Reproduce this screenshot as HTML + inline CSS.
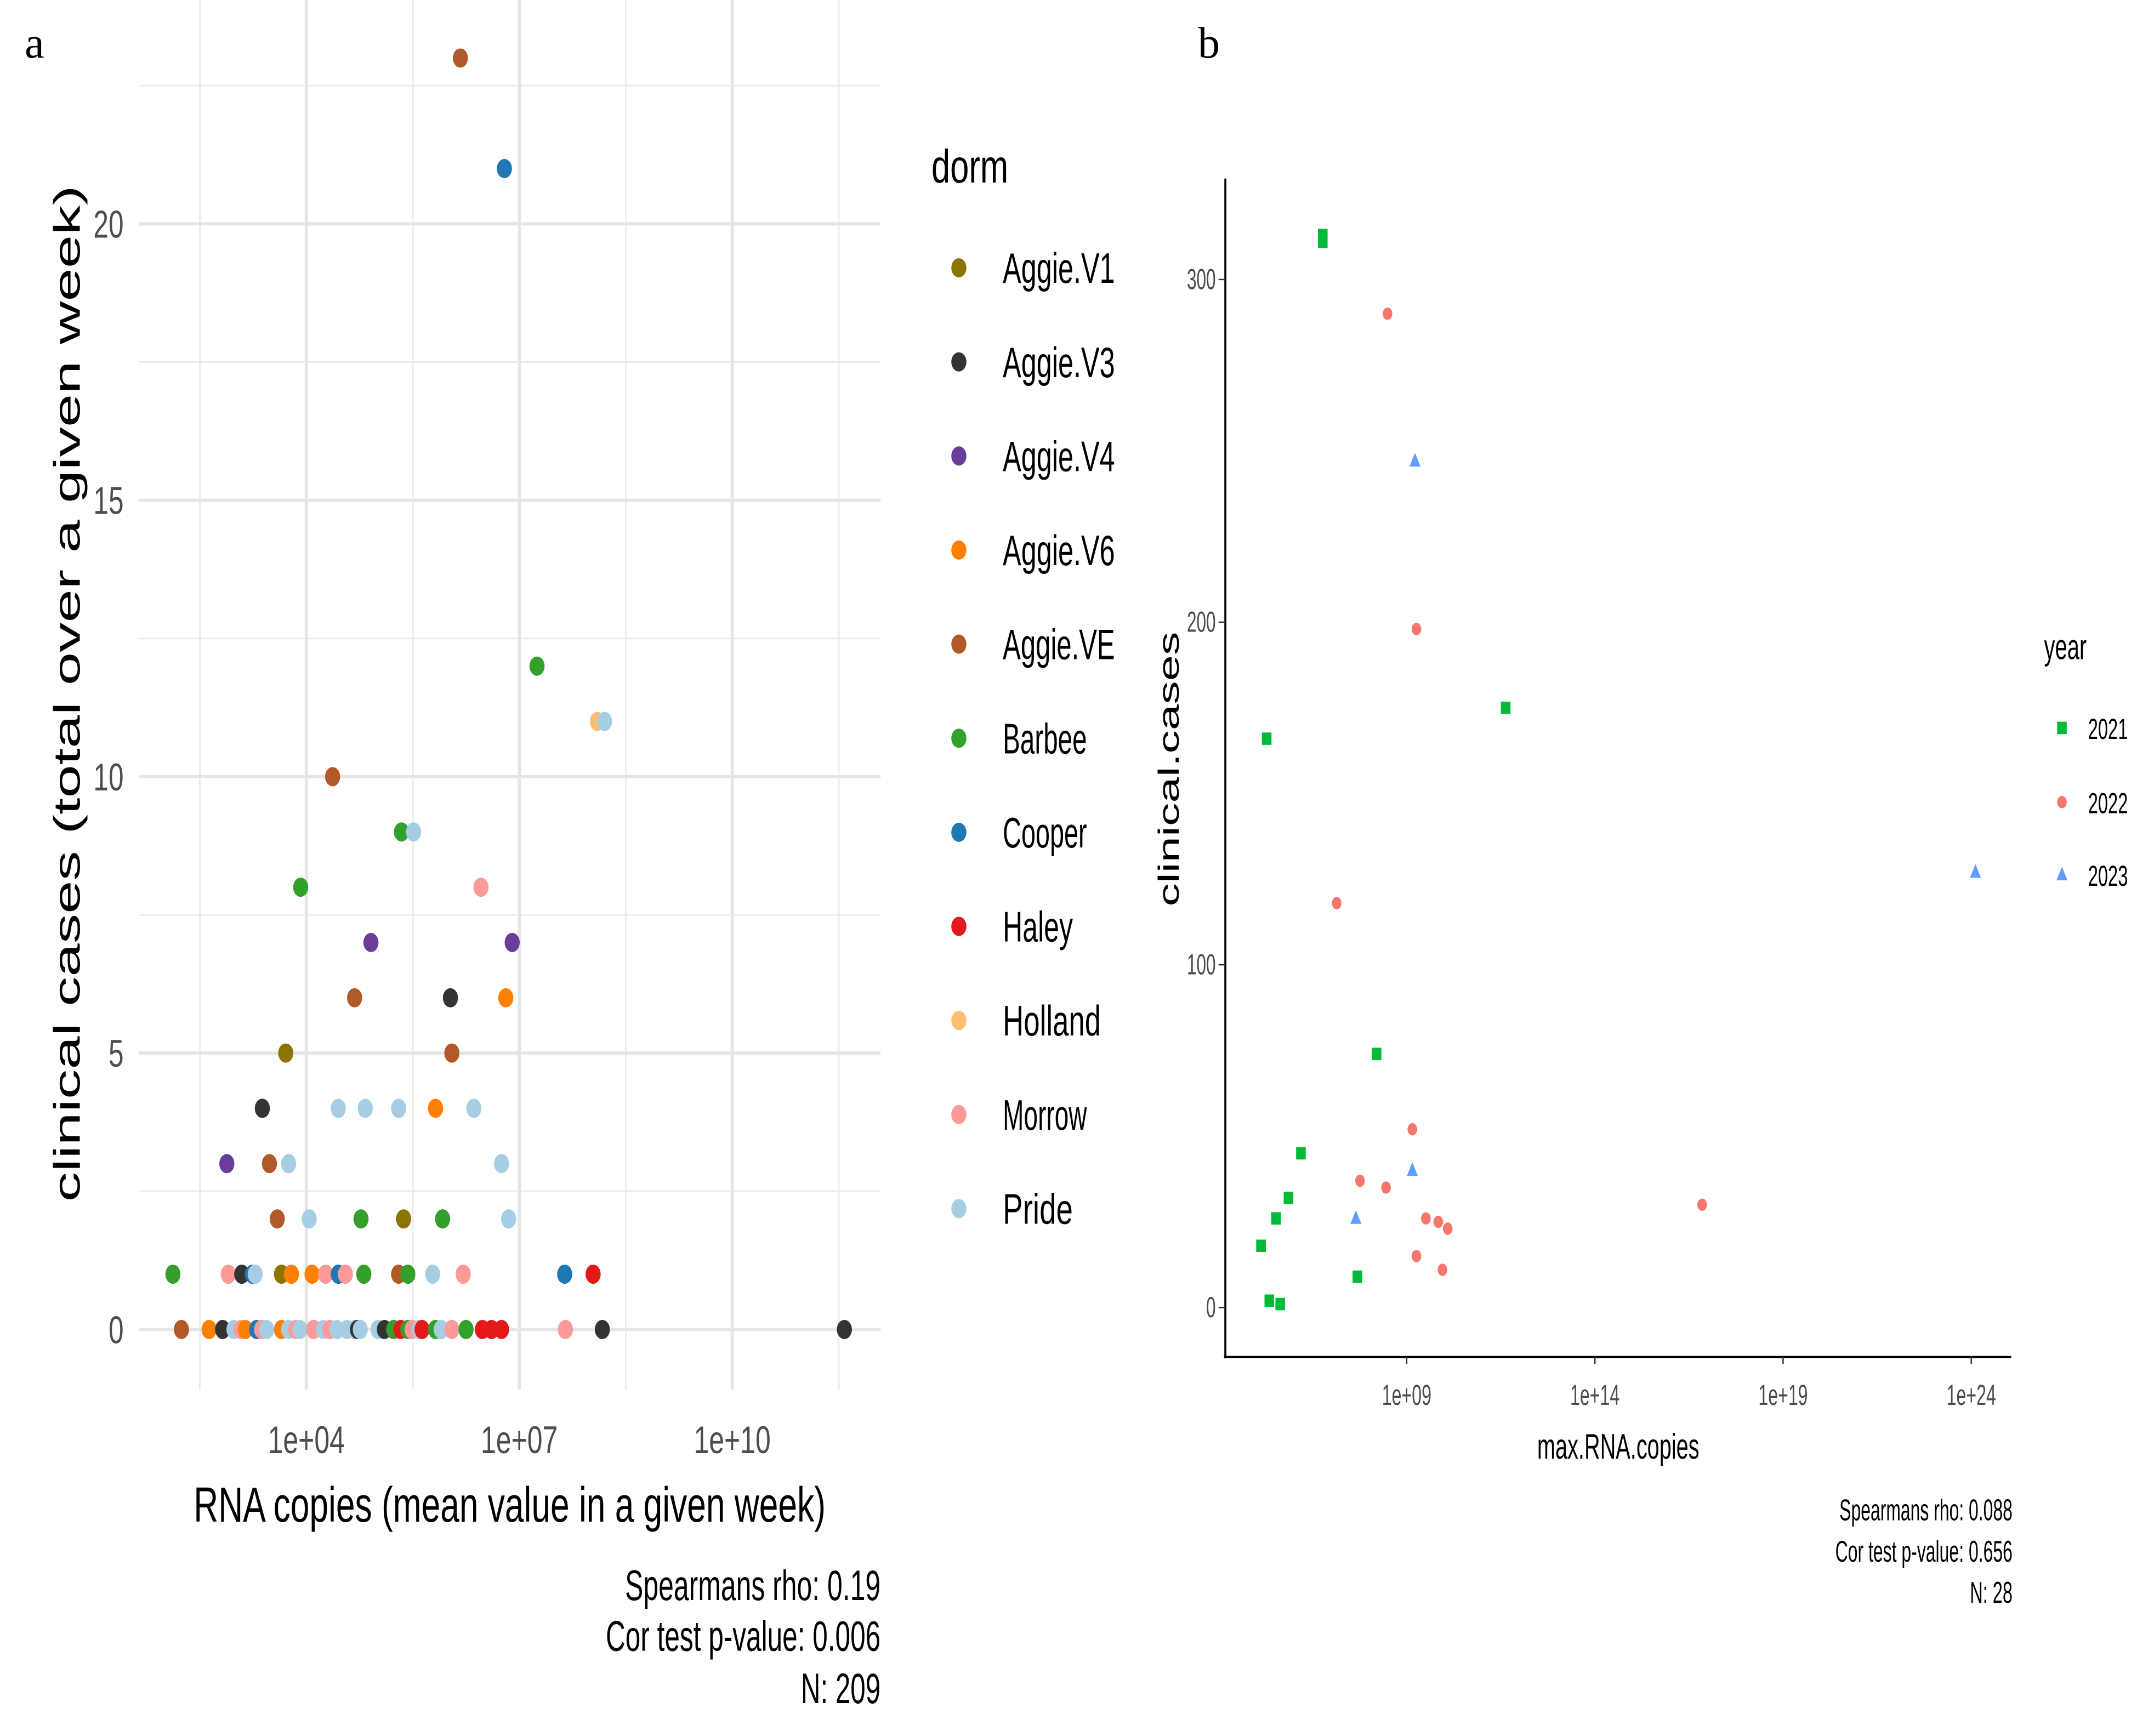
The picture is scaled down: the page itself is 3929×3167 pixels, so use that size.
<!DOCTYPE html>
<html><head><meta charset="utf-8">
<style>
html,body{margin:0;padding:0;background:#fff;}
svg{display:block;}
text{font-family:"Liberation Sans",sans-serif;}
</style></head>
<body>
<svg id="fig" width="3929" height="3167" viewBox="0 0 1568 1264" preserveAspectRatio="none" xmlns="http://www.w3.org/2000/svg">
<rect width="1568" height="1264" fill="#fff"/>
<text x="18" y="42" font-size="32" style="font-family:'Liberation Serif',serif">a</text>
<text x="872" y="42" font-size="32" style="font-family:'Liberation Serif',serif">b</text>
<g id="pa"></g>
<g id="pb"></g>
</svg>
<script>
// ---------- Panel a data ----------
const dormNames = ["Aggie.V1","Aggie.V3","Aggie.V4","Aggie.V6","Aggie.VE","Barbee","Cooper","Haley","Holland","Morrow","Pride"];
const dormColors = ["#8b7500","#333333","#6a3d9a","#ff7f00","#b15928","#33a02c","#1f78b4","#e31a1c","#fdbf6f","#fb9a99","#a6cee3"];
const aXTicks = [4,7,10];
const aXTickLabels = ["1e+04","1e+07","1e+10"];
const aYTicks = [0,5,10,15,20];
// log10 RNA copies, cases, dorm index
const aLogX = [6.17,6.79,7.25,8.10,8.20,4.37,5.34,5.51,3.92,6.46,4.91,6.90,4.68,6.03,6.81,3.71,6.05,
3.38,4.45,4.83,5.30,5.82,6.36,2.88,3.48,3.75,6.75,3.59,4.04,4.77,5.37,5.92,6.85,
2.12,2.90,3.09,3.24,3.28,3.65,3.79,4.08,4.27,4.45,4.55,4.81,5.30,5.43,5.78,6.21,7.64,8.04,
2.24,2.63,2.82,2.98,3.08,3.14,3.30,3.37,3.44,3.65,3.75,3.85,3.91,4.10,4.24,4.33,4.43,4.57,4.68,4.72,4.76,5.01,5.10,5.23,5.33,5.43,5.49,5.59,5.63,5.82,5.90,6.05,6.25,6.48,6.61,6.75,7.65,8.17,11.58];
const aCases = [23,21,12,11,11,10,9,9,8,8,7,7,6,6,6,5,5,
4,4,4,4,4,4,3,3,3,3,2,2,2,2,2,2,
1,1,1,1,1,1,1,1,1,1,1,1,1,1,1,1,1,1,
0,0,0,0,0,0,0,0,0,0,0,0,0,0,0,0,0,0,0,0,0,0,0,0,0,0,0,0,0,0,0,0,0,0,0,0,0,0,0];
const aDorm = [4,6,5,8,10,4,5,10,5,9,2,2,4,1,3,0,4,
1,10,10,10,3,10,2,4,10,10,4,10,5,0,5,10,
5,9,1,6,10,0,3,3,9,6,9,5,4,5,10,9,6,7,
4,3,1,10,9,3,6,9,10,3,10,9,10,9,10,9,10,10,10,1,10,10,1,5,7,5,9,10,7,5,10,9,5,7,7,7,9,1,1];

// ---------- Panel b data ----------
const yearNames = ["2021","2022","2023"];
const yearColors = ["#00ba38","#f8766d","#619cff"];
const bXTicks = [9,14,19,24];
const bXTickLabels = ["1e+09","1e+14","1e+19","1e+24"];
const bYTicks = [0,100,200,300];
const bLogX = [6.77,6.77,5.28,11.63,8.2,6.19,5.86,5.53,5.13,5.35,5.64,7.69,
8.49,9.26,7.14,9.15,7.76,8.45,9.51,9.84,10.09,9.26,9.95,16.85,
9.22,9.15,7.65,24.11];
const bCases = [313,311,166,175,74,45,32,26,18,2,1,9,
290,198,118,52,37,35,26,25,23,15,11,30,
247,40,26,127];
const bYear = [0,0,0,0,0,0,0,0,0,0,0,0,1,1,1,1,1,1,1,1,1,1,1,1,2,2,2,2];

const NS="http://www.w3.org/2000/svg";
function mk(parent,tag,attrs,txt){const e=document.createElementNS(NS,tag);for(const k in attrs)e.setAttribute(k,attrs[k]);if(txt!==undefined)e.textContent=txt;parent.appendChild(e);return e;}

// ----- Panel a -----
const pa=document.getElementById('pa');
const ax=v=>223+(v-4)*51.67;
const ay=v=>968-v*40.25;
for(let v=2.5;v<=11.5;v+=3){const l=mk(pa,'line',{x1:ax(v),x2:ax(v),y1:0,y2:1012,stroke:'#ebebeb','stroke-width':1.2});

}
for(let v=2.5;v<=22.5;v+=5){const l=mk(pa,'line',{x1:101,x2:641,y1:ay(v),y2:ay(v),stroke:'#ebebeb','stroke-width':1.2});

}
aXTicks.forEach((v,i)=>{const l=mk(pa,'line',{x1:ax(v),x2:ax(v),y1:0,y2:1012,stroke:'#e5e5e5','stroke-width':2.4});


const t=mk(pa,'text',{x:ax(v),y:1058,'text-anchor':'middle','font-size':28,fill:'#4d4d4d',textLength:56,lengthAdjust:'spacingAndGlyphs'},aXTickLabels[i]);

});
aYTicks.forEach(v=>{const l=mk(pa,'line',{x1:101,x2:641,y1:ay(v),y2:ay(v),stroke:'#e5e5e5','stroke-width':2.4});


const s=String(v);
const t=mk(pa,'text',{x:90,y:ay(v)+10,'text-anchor':'end','font-size':28,fill:'#4d4d4d',textLength:s.length*11,lengthAdjust:'spacingAndGlyphs'},s);

});
aLogX.forEach((v,i)=>{const c=mk(pa,'ellipse',{cx:ax(v),cy:ay(aCases[i]),rx:5.5,ry:7,fill:dormColors[aDorm[i]]});

});
let t;
t=mk(pa,'text',{x:0,y:0,transform:'translate(58,505) rotate(-90)','text-anchor':'middle','font-size':27,fill:'#000',textLength:740,lengthAdjust:'spacingAndGlyphs'},'clinical cases (total over a given week)');


t=mk(pa,'text',{x:371,y:1108,'text-anchor':'middle','font-size':36,fill:'#000',textLength:460,lengthAdjust:'spacingAndGlyphs'},'RNA copies (mean value in a given week)');


[['Spearmans rho: 0.19',1165,186],['Cor test p-value: 0.006',1202,200],['N: 209',1240,58]].forEach(a=>{
const e=mk(pa,'text',{x:641,y:a[1],'text-anchor':'end','font-size':31,fill:'#000',textLength:a[2],lengthAdjust:'spacingAndGlyphs'},a[0]);

});
t=mk(pa,'text',{x:678,y:133,'font-size':34,fill:'#000',textLength:56,lengthAdjust:'spacingAndGlyphs'},'dorm');


dormNames.forEach((n,i)=>{const y=195+68.5*i;
const g=mk(pa,'g',{});


mk(g,'ellipse',{cx:698,cy:y,rx:5.5,ry:7,fill:dormColors[i]});
mk(g,'text',{x:730,y:y+11,'font-size':31,fill:'#000',textLength:n.length*10.2,lengthAdjust:'spacingAndGlyphs'},n);});

// ----- Panel b -----
const pb=document.getElementById('pb');
const bx=v=>1024+(v-9)*27.4;
const by=v=>952-v*2.495;
mk(pb,'line',{x1:892,x2:892,y1:130,y2:989,stroke:'#000','stroke-width':1.5});
mk(pb,'line',{x1:891,x2:1464,y1:988,y2:988,stroke:'#000','stroke-width':1.5});
bXTicks.forEach((v,i)=>{mk(pb,'line',{x1:bx(v),x2:bx(v),y1:988,y2:993,stroke:'#333'});
const e=mk(pb,'text',{x:bx(v),y:1023,'text-anchor':'middle','font-size':21,fill:'#4d4d4d',textLength:36,lengthAdjust:'spacingAndGlyphs'},bXTickLabels[i]);

});
bYTicks.forEach(v=>{mk(pb,'line',{x1:887,x2:892,y1:by(v),y2:by(v),stroke:'#333'});
const s=String(v);
const e=mk(pb,'text',{x:885,y:by(v)+7,'text-anchor':'end','font-size':21,fill:'#4d4d4d',textLength:s.length*7,lengthAdjust:'spacingAndGlyphs'},s);

});
function marker(g,yr,x,y){
 if(yr===0) return mk(g,'rect',{x:x-3.5,y:y-4.5,width:7,height:9,fill:yearColors[0]});
 if(yr===1) return mk(g,'ellipse',{cx:x,cy:y,rx:3.5,ry:4.5,fill:yearColors[1]});
 return mk(g,'polygon',{points:`${x},${y-6} ${x-4},${y+4} ${x+4},${y+4}`,fill:yearColors[2]});
}
bLogX.forEach((v,i)=>{const m=marker(pb,bYear[i],bx(v),by(bCases[i]));

});
t=mk(pb,'text',{x:0,y:0,transform:'translate(858,560) rotate(-90)','text-anchor':'middle','font-size':21,fill:'#000',textLength:200,lengthAdjust:'spacingAndGlyphs'},'clinical.cases');


t=mk(pb,'text',{x:1178,y:1062,'text-anchor':'middle','font-size':26,fill:'#000',textLength:118,lengthAdjust:'spacingAndGlyphs'},'max.RNA.copies');


[['Spearmans rho: 0.088',1107,126],['Cor test p-value: 0.656',1137,129],['N: 28',1167,31]].forEach(a=>{
const e=mk(pb,'text',{x:1465,y:a[1],'text-anchor':'end','font-size':22,fill:'#000',textLength:a[2],lengthAdjust:'spacingAndGlyphs'},a[0]);

});
t=mk(pb,'text',{x:1488,y:480,'font-size':26,fill:'#000',textLength:31,lengthAdjust:'spacingAndGlyphs'},'year');


yearNames.forEach((n,i)=>{const y=[530,584,637][i];
const g=mk(pb,'g',{});


marker(g,i,1501,y);
mk(g,'text',{x:1520,y:y+8,'font-size':21,fill:'#000',textLength:29,lengthAdjust:'spacingAndGlyphs'},n);});
</script>
</body></html>
